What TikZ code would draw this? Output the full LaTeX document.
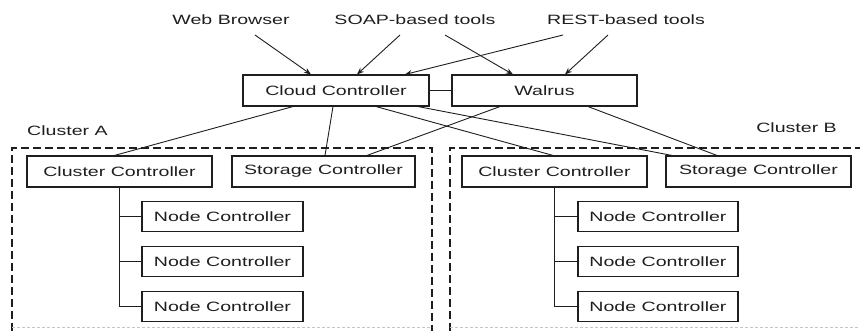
\documentclass[tikz,border=0pt]{standalone}
\usepackage{fontspec}
\setmainfont[FakeStretch=1.45]{Liberation Sans}
\usetikzlibrary{arrows.meta}
\definecolor{ink}{RGB}{30,30,30}

\begin{document}
\begin{tikzpicture}[x=1pt,y=1pt,
  every node/.style={font=\fontsize{13.5}{16}\selectfont, text=ink},
  box/.style={draw=ink, line width=1.1pt, minimum height=30pt, inner sep=0pt},
  lbl/.style={inner sep=0pt, anchor=base},
  link/.style={draw=ink, line width=0.9pt},
  arr/.style={link, -{Stealth[length=7pt,width=5.5pt]}},
  cluster/.style={draw=ink, line width=1.1pt, dash pattern=on 8pt off 4pt},
  faint/.style={draw=gray!45, line width=0.8pt, dash pattern=on 3pt off 2pt},
]
\useasboundingbox (0,0) rectangle (860,331);

% client tools
\node[lbl] (wb)   at (231,306) {Web Browser};
\node[lbl] (soap) at (415,306) {SOAP-based tools};
\node[lbl] (rest) at (626,306) {REST-based tools};

% cloud level
\node[box, minimum width=186pt, minimum height=31pt] (cloud)  at (336,240.5)   {Cloud Controller};
\node[box, minimum width=185pt, minimum height=31pt] (walrus) at (544.5,240.5) {Walrus};

% cluster frames
\draw[cluster] (12,0) |- (432,183) -- (432,0);
\draw[cluster] (450,0) |- (870,183);
\draw[faint] (12,3.5) -- (432,3.5);
\draw[faint] (450,3.5) -- (860,3.5);
\node[lbl, anchor=base west] (clA) at (27,195)  {Cluster A};
\node[lbl, anchor=base east] (clB) at (837,198) {Cluster B};

% cluster A
\node[box, minimum width=185pt, minimum height=31pt] (ccA) at (119.5,159.5) {Cluster Controller};
\node[box, minimum width=183pt, minimum height=31pt] (sA)  at (323.5,159.5) {Storage Controller};
\node[box, minimum width=161pt] (ncA1) at (222.5,114.3) {Node Controller};
\node[box, minimum width=161pt] (ncA2) at (222.5,69.7)  {Node Controller};
\node[box, minimum width=161pt] (ncA3) at (222.5,24.8)  {Node Controller};

% cluster B
\node[box, minimum width=185pt, minimum height=31pt] (ccB) at (554.5,159.5) {Cluster Controller};
\node[box, minimum width=185pt, minimum height=31pt] (sB)  at (758.5,159.5) {Storage Controller};
\node[box, minimum width=160pt] (ncB1) at (658,114.3) {Node Controller};
\node[box, minimum width=160pt] (ncB2) at (658,69.7)  {Node Controller};
\node[box, minimum width=160pt] (ncB3) at (658,24.8)  {Node Controller};

% requests from the tools
\draw[arr] ([xshift=24pt,yshift=-10pt]wb.base)    -- ([xshift=-25pt]cloud.north);
\draw[arr] ([xshift=-15pt,yshift=-10pt]soap.base) -- ([xshift=21pt]cloud.north);
\draw[arr] ([xshift=30pt,yshift=-10pt]soap.base)  -- ([xshift=-31.5pt]walrus.north);
\draw[arr] ([xshift=-63pt,yshift=-10pt]rest.base) -- ([xshift=69pt]cloud.north);
\draw[arr] ([xshift=-18pt,yshift=-10pt]rest.base) -- ([xshift=20.5pt]walrus.north);

% cloud / walrus links
\draw[link] (cloud.east) -- (walrus.west);
\draw[link] ([xshift=-43pt]cloud.south)    -- ([xshift=-5pt]ccA.north);
\draw[link] ([xshift=-3pt]cloud.south)     -- ([xshift=1.5pt]sA.north);
\draw[link] ([xshift=40pt]cloud.south)     -- ([xshift=-1.5pt]ccB.north);
\draw[link] ([xshift=82pt]cloud.south)     -- ([xshift=-86.5pt]sB.north);
\draw[link] ([xshift=-44.5pt]walrus.south) -- ([xshift=43.5pt]sA.north);
\draw[link] ([xshift=43.5pt]walrus.south)  -- ([xshift=-41.5pt]sB.north);

% node controller trees
\draw[link] (ccA.south) |- (ncA3.west);
\draw[link] (ccA.south |- ncA1.west) -- (ncA1.west);
\draw[link] (ccA.south |- ncA2.west) -- (ncA2.west);
\draw[link] (ccB.south) |- (ncB3.west);
\draw[link] (ccB.south |- ncB1.west) -- (ncB1.west);
\draw[link] (ccB.south |- ncB2.west) -- (ncB2.west);
\end{tikzpicture}
\end{document}
